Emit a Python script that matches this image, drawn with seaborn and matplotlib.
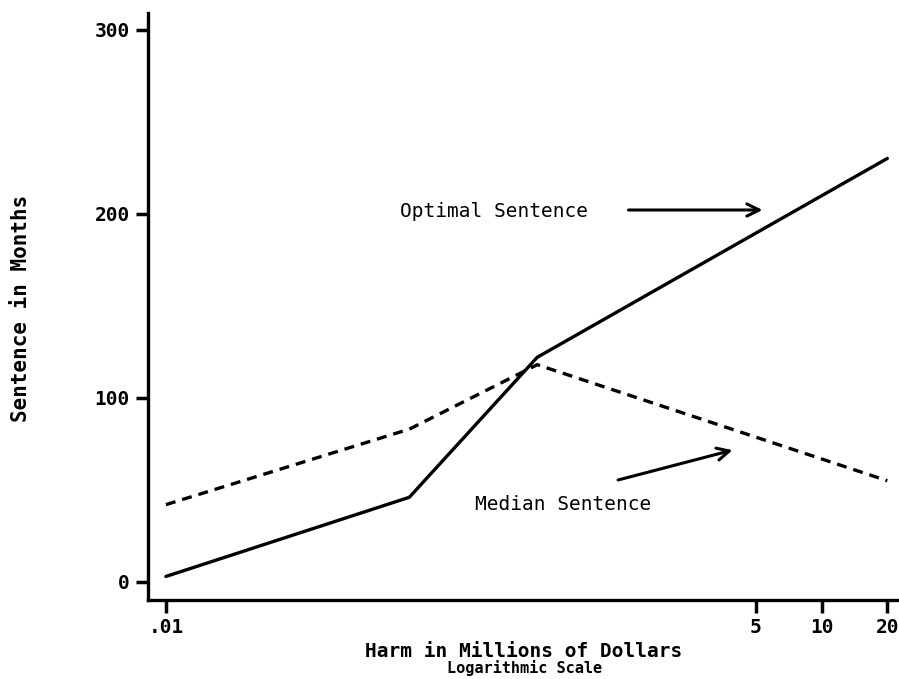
import numpy as np
import matplotlib
matplotlib.use('Agg')
import matplotlib.pyplot as plt
import seaborn as sns
import pandas as pd

# dane
harm = [0.01, 0.13, 0.5, 20]
optimal = [3, 46, 122, 230]
median = [42, 83, 118, 55]
x_ticks = [0.01, 5, 10, 20]
x_tick_labels = ['.01', '5', '10', '20']
y_ticks = [0, 100, 200, 300]

df = pd.DataFrame({
    'harm': harm + harm,
    'months': optimal + median,
    'series': ['Optimal'] * len(harm) + ['Median'] * len(harm),
})

sns.set_style('white')
plt.rcParams['font.family'] = ['DejaVu Sans Mono', 'DejaVu Sans']
plt.rcParams['text.color'] = 'black'

fig = plt.figure(figsize=(8.99, 6.79), dpi=100)
ax = fig.add_axes([0.1646, 0.1163, 0.8334, 0.8646])

sns.lineplot(data=df, x='harm', y='months', style='series',
             dashes={'Optimal': '', 'Median': (3, 2.1)},
             color='black', linewidth=2.4, legend=False, ax=ax)

ax.set_xscale('log')
ax.set_xlim(0.00828, 22.2)
ax.set_ylim(-9.8, 309)
ax.set_xticks(x_ticks)
ax.set_xticklabels(x_tick_labels)
ax.minorticks_off()
ax.set_yticks(y_ticks)
ax.tick_params(axis='both', direction='out', length=9, width=2.5,
               labelsize=14, colors='black', pad=4, bottom=True, left=True)
for lab in ax.get_xticklabels() + ax.get_yticklabels():
    lab.set_fontweight('bold')

for side in ['top', 'right']:
    ax.spines[side].set_visible(False)
for side in ['left', 'bottom']:
    ax.spines[side].set_linewidth(2.4)
    ax.spines[side].set_color('black')

ax.set_xlabel('')
ax.set_ylabel('')
fig.text(0.583, 0.04, 'Harm in Millions of Dollars', ha='center', va='center',
         fontsize=14, fontweight='bold', color='black')
fig.text(0.583, 0.016, 'Logarithmic Scale', ha='center', va='center',
         fontsize=11, fontweight='bold', color='black')
fig.text(0.023, 0.546, 'Sentence in Months', rotation=90, ha='center',
         va='center', fontsize=15, fontweight='bold', color='black')

# adnotacje ze strzałkami
ax.text(0.318, 201, 'Optimal Sentence', ha='center', va='center',
        fontsize=14, color='black')
ax.annotate('', xy=(5.53, 202), xytext=(1.27, 202),
            arrowprops=dict(arrowstyle='->', lw=2.2, color='black',
                            mutation_scale=22))
ax.text(0.658, 42, 'Median Sentence', ha='center', va='center',
        fontsize=14, color='black')
ax.annotate('', xy=(4.03, 72), xytext=(1.14, 55),
            arrowprops=dict(arrowstyle='->', lw=2.2, color='black',
                            mutation_scale=22))

plt.savefig('out.png', dpi=100)
plt.close()
